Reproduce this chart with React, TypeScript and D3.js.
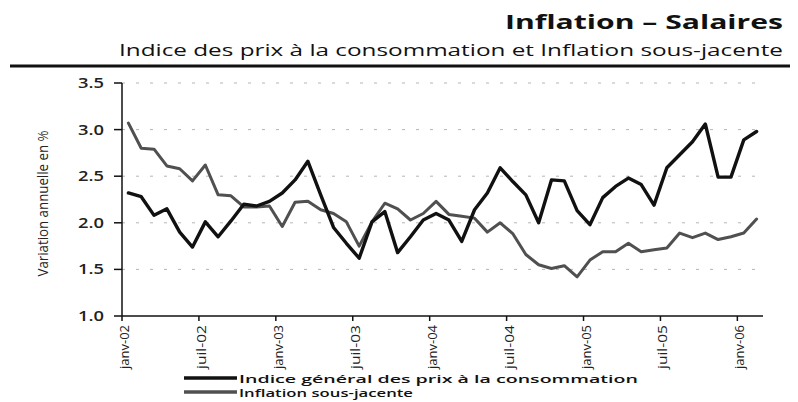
import * as d3 from 'd3'

// months from janv-02 to févr-06
const monthNames = ['janv', 'févr', 'mars', 'avr', 'mai', 'juin', 'juil', 'août', 'sept', 'oct', 'nov', 'déc']
const years = ['02', '03', '04', '05', '06']
const months = years.flatMap(y => monthNames.map(m => `${m}-${y}`)).slice(0, 50)

const tickLabels = ['janv-02', 'juil-02', 'janv-03', 'juil-03', 'janv-04', 'juil-04', 'janv-05', 'juil-05', 'janv-06']
const yTicks = [1.0, 1.5, 2.0, 2.5, 3.0, 3.5]

// Indice général des prix à la consommation
const ipc = [
  2.32, 2.28, 2.08, 2.15, 1.90, 1.74, 2.01, 1.85, 2.02, 2.20, 2.18, 2.23,
  2.32, 2.46, 2.66, 2.30, 1.95, 1.78, 1.62, 2.01, 2.12, 1.68, 1.85, 2.03,
  2.10, 2.03, 1.80, 2.14, 2.32, 2.59, 2.44, 2.30, 2.00, 2.46, 2.45, 2.13,
  1.98, 2.27, 2.39, 2.48, 2.41, 2.19, 2.59, 2.73, 2.87, 3.06, 2.49, 2.49,
  2.89, 2.98,
]

// Inflation sous-jacente
const sousJacente = [
  3.07, 2.80, 2.79, 2.61, 2.58, 2.45, 2.62, 2.30, 2.29, 2.17, 2.17, 2.18,
  1.96, 2.22, 2.23, 2.14, 2.10, 2.01, 1.75, 2.01, 2.21, 2.15, 2.03, 2.10,
  2.23, 2.09, 2.07, 2.05, 1.90, 2.00, 1.88, 1.66, 1.55, 1.51, 1.54, 1.42,
  1.60, 1.69, 1.69, 1.78, 1.69, 1.71, 1.73, 1.89, 1.84, 1.89, 1.82, 1.85,
  1.89, 2.04,
]

const seriesNames = ['Indice général des prix à la consommation', 'Inflation sous-jacente']

const W = 798
const H = 402
const left = 122
const right = 763
const top = 83
const bottom = 316
const font = '"Open Sans", "DejaVu Sans", sans-serif'

export default function App() {
  const x = d3.scaleBand<string>().domain(months).range([left, right]).paddingInner(0).paddingOuter(0)
  const y = d3.scaleLinear().domain([1, 3.5]).range([bottom, top])
  const cx = (m: string) => (x(m) ?? 0) + x.bandwidth() / 2

  const line = d3.line<number>()
    .x((_, i) => cx(months[i]))
    .y(d => y(d))

  const series = [
    { name: seriesNames[0], values: ipc, color: '#111', width: 3.4 },
    { name: seriesNames[1], values: sousJacente, color: '#505050', width: 3 },
  ]

  return (
    <svg width={W} height={H} style={{ position: 'absolute', left: 0, top: 0, background: '#fff' }}>
      {/* header */}
      <text x={783} y={29} textAnchor="end" fontFamily={font} fontWeight={700} fontSize={20}
        textLength={278} lengthAdjust="spacingAndGlyphs" fill="#111">Inflation – Salaires</text>
      <text x={783} y={56} textAnchor="end" fontFamily={font} fontSize={15.5}
        textLength={664} lengthAdjust="spacingAndGlyphs" fill="#111">Indice des prix à la consommation et Inflation sous-jacente</text>
      <line x1={10} x2={790} y1={66} y2={66} stroke="#111" strokeWidth={3} />

      {/* grid */}
      {yTicks.filter(t => t > 1).map(t => (
        <line key={t} x1={left} x2={757} y1={y(t)} y2={y(t)} stroke="#b5b5b5" strokeWidth={1} strokeDasharray="3 11" />
      ))}

      {/* y axis */}
      <line x1={left} x2={left} y1={top} y2={bottom} stroke="#111" strokeWidth={1.5} />
      {yTicks.map(t => (
        <g key={t}>
          <line x1={114} x2={left} y1={y(t)} y2={y(t)} stroke="#111" strokeWidth={1.5} />
          <text x={104} y={y(t) + 5} textAnchor="end" fontFamily={font} fontWeight={600} fontSize={14}
            textLength={26} lengthAdjust="spacingAndGlyphs" fill="#222">{t.toFixed(1)}</text>
        </g>
      ))}
      <text transform={`translate(48,${(top + bottom) / 2 + 4}) rotate(-90)`} textAnchor="middle"
        fontFamily={font} fontSize={15} textLength={146} lengthAdjust="spacingAndGlyphs" fill="#222">Variation annuelle en %</text>

      {/* x axis */}
      <line x1={left} x2={right} y1={bottom} y2={bottom} stroke="#111" strokeWidth={1.5} />
      {tickLabels.map(m => {
        const tx = x(m) ?? 0
        return (
          <g key={m}>
            <line x1={tx} x2={tx} y1={bottom} y2={bottom + 5} stroke="#111" strokeWidth={1.5} />
            <text transform={`translate(${tx + 7},${bottom + 9}) rotate(-90)`} textAnchor="end"
              fontFamily={font} fontSize={12.5} textLength={44} lengthAdjust="spacingAndGlyphs" fill="#222">{m}</text>
          </g>
        )
      })}

      {/* series */}
      {series.slice().reverse().map(s => (
        <path key={s.name} d={line(s.values) ?? ''} fill="none" stroke={s.color} strokeWidth={s.width}
          strokeLinejoin="round" strokeLinecap="round" />
      ))}

      {/* legend */}
      {series.map((s, i) => (
        <g key={s.name} transform={`translate(0,${378 + i * 14})`}>
          <line x1={184} x2={237} y1={0} y2={0} stroke={s.color} strokeWidth={3.4} />
          <text x={239} y={4.5} fontFamily={font} fontWeight={600} fontSize={10.5}
            textLength={i === 0 ? 399 : 174} lengthAdjust="spacingAndGlyphs" fill="#111">{s.name}</text>
        </g>
      ))}
    </svg>
  )
}
